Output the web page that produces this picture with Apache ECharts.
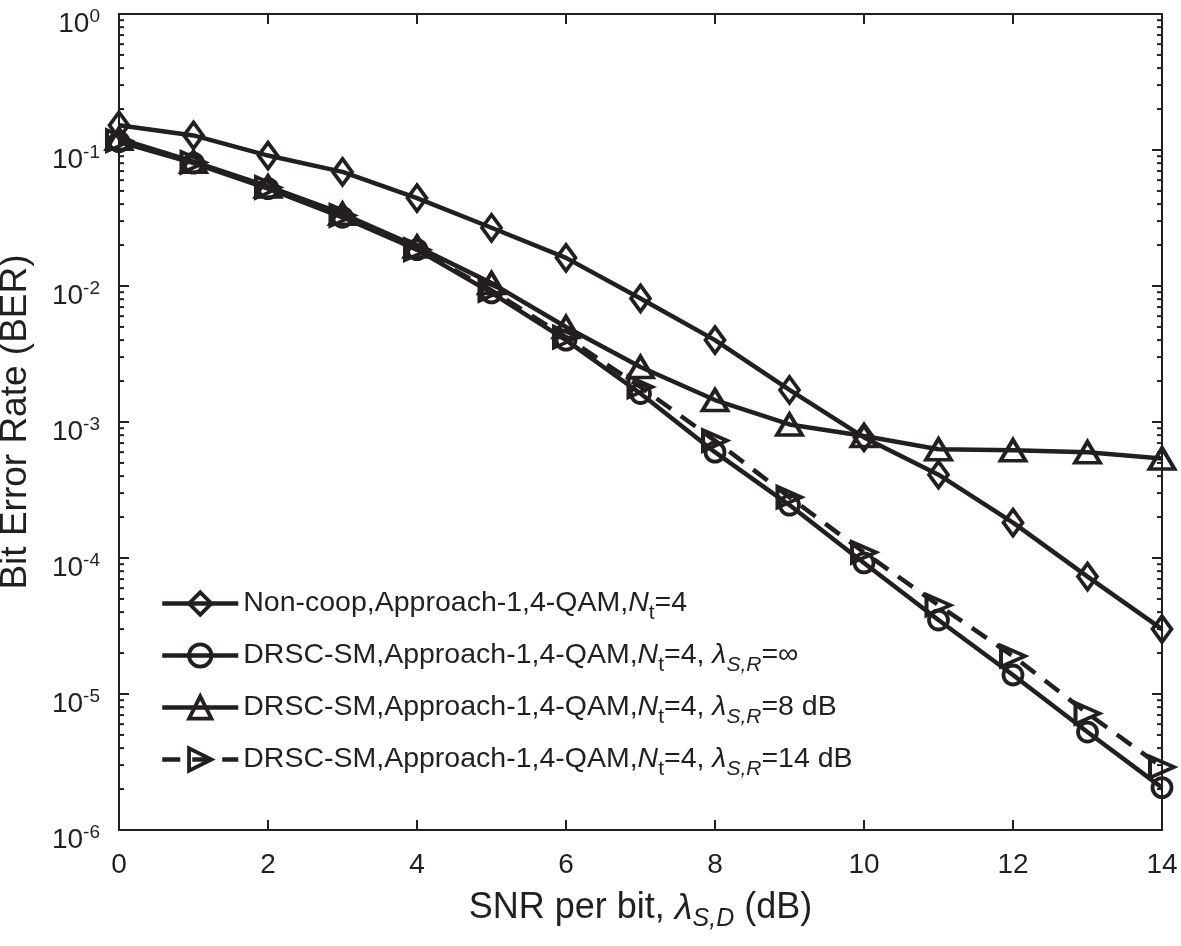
<!DOCTYPE html>
<html>
<head>
<meta charset="utf-8">
<script src="https://cdn.jsdelivr.net/npm/echarts@6/dist/echarts.min.js"></script>
<style>html,body{margin:0;padding:0;background:#fff}#c{width:1181px;height:946px}</style>
</head>
<body>
<div id="c"></div>
<script>
// ---- data ----
const snr = [0,1,2,3,4,5,6,7,8,9,10,11,12,13,14];
const berNonCoop = [0.152,0.128,0.091,0.069,0.0443,0.0268,0.0161,0.0081,0.0040,0.00172,7.7e-4,4.1e-4,1.82e-4,7.3e-5,3.0e-5];
const berInf     = [0.115,0.080,0.052,0.032,0.0185,0.0089,0.0040,0.00162,6.0e-4,2.45e-4,9.2e-5,3.5e-5,1.38e-5,5.25e-6,2.05e-6];
const ber8dB     = [0.121,0.082,0.054,0.034,0.0195,0.0105,0.0050,0.00254,0.00145,9.6e-4,7.9e-4,6.3e-4,6.2e-4,6.0e-4,5.4e-4];
const ber14dB    = [0.117,0.081,0.053,0.033,0.0185,0.0093,0.0042,0.00181,7.3e-4,2.8e-4,1.1e-4,4.5e-5,1.9e-5,7.2e-6,2.9e-6];
const seriesNames = [
  'Non-coop,Approach-1,4-QAM,Nt=4',
  'DRSC-SM,Approach-1,4-QAM,Nt=4,λS,R=∞',
  'DRSC-SM,Approach-1,4-QAM,Nt=4,λS,R=8 dB',
  'DRSC-SM,Approach-1,4-QAM,Nt=4,λS,R=14 dB'
];
const legendLabels = [
  'Non-coop,Approach-1,4-QAM,{i|N}{s|t}=4',
  'DRSC-SM,Approach-1,4-QAM,{i|N}{s|t}=4, {i|λ}{si|S,R}=∞',
  'DRSC-SM,Approach-1,4-QAM,{i|N}{s|t}=4, {i|λ}{si|S,R}=8 dB',
  'DRSC-SM,Approach-1,4-QAM,{i|N}{s|t}=4, {i|λ}{si|S,R}=14 dB'
];
const yMinor = [];
for (let d = -6; d <= -1; d++) for (let m = 2; m <= 9; m++) yMinor.push(+(m * Math.pow(10, d)).toPrecision(3));

// ---- chart ----
const INK = '#231f20';
const FONT = '"Liberation Sans", Arial, Helvetica, sans-serif';
const chart = echarts.init(document.getElementById('c'), null, {renderer: 'canvas'});
function pairs(ys){ return snr.map((x,i)=>[x, ys[i]]); }
function yAx(pos, labels){
  return {
    type: 'log', logBase: 10, min: 1e-6, max: 1, position: pos,
    axisLine: {show: true, onZero: false, lineStyle: {color: INK, width: 2}},
    axisTick: {show: true, inside: true, length: 10, lineStyle: {color: INK, width: 2}},
    splitLine: {show: false}, minorTick: {show: false},
    axisLabel: labels ? {
      show: true, margin: 19, fontFamily: FONT, color: INK,
      formatter: v => '{b|10}{e|' + Math.round(Math.log10(v)) + '}',
      rich: {
        b: {fontSize: 28, fontFamily: FONT, color: INK, padding: [20,0,0,0]},
        e: {fontSize: 19, fontFamily: FONT, color: INK, padding: [6,0,0,0]}
      }
    } : {show: false},
    name: labels ? 'Bit Error Rate (BER)' : '',
    nameLocation: 'middle', nameGap: 85,
    nameTextStyle: {fontSize: 37, fontFamily: FONT, color: INK}
  };
}
function xAx(pos, labels){
  return {
    type: 'value', min: 0, max: 14, interval: 2, position: pos,
    axisLine: {show: true, onZero: false, lineStyle: {color: INK, width: 2}},
    axisTick: {show: true, inside: true, length: 10, lineStyle: {color: INK, width: 2}},
    splitLine: {show: false},
    axisLabel: labels ? {show: true, margin: 21, fontSize: 28, fontFamily: FONT, color: INK,
      formatter: v => String(v)} : {show: false},
    name: labels ? 'SNR per bit, {i|λ}{si|S,D} (dB)' : '',
    nameLocation: 'middle', nameGap: 55,
    nameTextStyle: {fontSize: 36, fontFamily: FONT, color: INK,
      rich: {
        i: {fontSize: 36, fontStyle: 'italic', fontFamily: FONT, color: INK},
        si: {fontSize: 25, fontStyle: 'italic', fontFamily: FONT, color: INK, padding: [22,0,0,0]}
      }}
  };
}
const symbols = [
  {symbol: 'diamond', size: [19,26], rot: 0},
  {symbol: 'circle', size: 19, rot: 0},
  {symbol: 'triangle', size: [25,21], rot: 0},
  {symbol: 'triangle', size: [21,24], rot: -90}
];
const datasets = [berNonCoop, berInf, ber8dB, ber14dB];
const series = datasets.map((d, k) => ({
  name: seriesNames[k], type: 'line', data: pairs(d),
  xAxisIndex: 0, yAxisIndex: 0,
  symbol: symbols[k].symbol, symbolSize: symbols[k].size, symbolRotate: symbols[k].rot,
  showAllSymbol: true,
  lineStyle: {color: INK, width: 4.5, type: k === 3 ? [18, 12] : 'solid'},
  itemStyle: {color: 'rgba(255,255,255,0)', borderColor: INK, borderWidth: 3.8},
  emphasis: {disabled: true}, animation: false, z: 3 + k
}));
// minor log ticks (2..9 per decade) on left and right edges, placed through the axes
series.push({
  type: 'custom', name: 'minorTicks', coordinateSystem: 'cartesian2d',
  xAxisIndex: 0, yAxisIndex: 0, silent: true, clip: false, z: 2,
  data: yMinor.map(v => [snr[0], v]),
  renderItem: (params, api) => {
    const v = api.value(1);
    const pL = api.coord([snr[0], v]);
    const pR = api.coord([snr[snr.length - 1], v]);
    return {type: 'group', children: [
      {type: 'line', shape: {x1: pL[0], y1: pL[1], x2: pL[0] + 5, y2: pL[1]}, style: {stroke: INK, lineWidth: 2}},
      {type: 'line', shape: {x1: pR[0] - 5, y1: pR[1], x2: pR[0], y2: pR[1]}, style: {stroke: INK, lineWidth: 2}}
    ]};
  }
});
chart.setOption({
  animation: false,
  backgroundColor: '#fff',
  grid: {left: 119, right: 19, top: 14, bottom: 116, containLabel: false, outerBoundsMode: 'none'},
  xAxis: [xAx('bottom', true), xAx('top', false)],
  yAxis: [yAx('left', true), yAx('right', false)],
  legend: {
    orient: 'vertical', left: 155, top: 584, itemWidth: 76, itemHeight: 28, itemGap: 17,
    data: seriesNames,
    formatter: name => legendLabels[seriesNames.indexOf(name)],
    lineStyle: {width: 4.5},
    itemStyle: {borderWidth: 3.8},
    textStyle: {fontSize: 28.5, fontFamily: FONT, color: INK,
      rich: {
        i: {fontSize: 28.5, fontStyle: 'italic', fontFamily: FONT, color: INK},
        s: {fontSize: 21, fontFamily: FONT, color: INK, padding: [20,0,0,0]},
        si: {fontSize: 21, fontStyle: 'italic', fontFamily: FONT, color: INK, padding: [20,0,0,0]}
      }},
    selectedMode: false
  },
  series: series
});
</script>
</body>
</html>
